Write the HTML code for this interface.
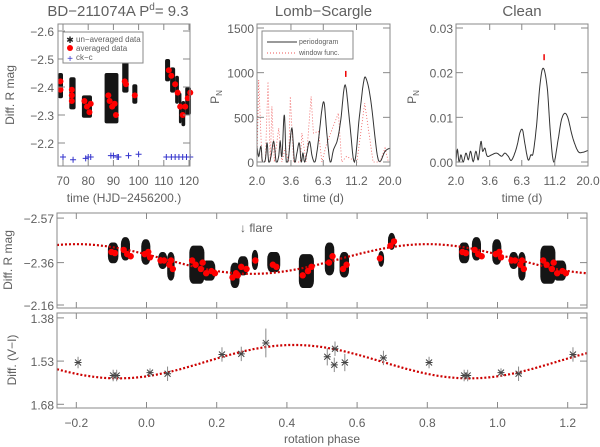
<!DOCTYPE html>
<html><head><meta charset="utf-8"><title>BD-211074A</title>
<style>
html,body{margin:0;padding:0;background:#fff;}
svg{display:block;font-family:"Liberation Sans",sans-serif;}
text{fill:#606060;}
</style></head>
<body>
<svg id="fig" width="600" height="447" viewBox="0 0 600 447" xmlns="http://www.w3.org/2000/svg">
<g id="g-lc"></g>
<g id="g-ls"></g>
<g id="g-cl"></g>
<g id="g-ph"></g>
<g id="g-vi"></g>
</svg>
<script>
// ---------- data ----------
var lcT0 = [68.0, 72.5, 77.5, 86.5, 93.5, 97.5, 110.5, 112.5, 114.5, 116.0, 117.0, 118.5];
var lcT1 = [70.0, 75.0, 81.5, 92.0, 96.0, 99.5, 112.5, 114.5, 116.0, 117.0, 118.5, 120.8];
var lcM0 = [-2.45, -2.435, -2.37, -2.45, -2.49, -2.41, -2.50, -2.47, -2.44, -2.38, -2.35, -2.40];
var lcM1 = [-2.36, -2.32, -2.29, -2.27, -2.38, -2.34, -2.42, -2.38, -2.34, -2.27, -2.26, -2.30];
var avgT = [69, 69, 73.5, 73.5, 73.5, 78.5, 79.5, 80.5, 81, 88, 88.5, 89.5, 90.5, 91, 94.5, 95, 98.5, 112, 113, 114.5, 115.5, 116.5, 117.5, 118.5, 119.5, 120.5];
var avgM = [-2.42, -2.39, -2.39, -2.37, -2.35, -2.35, -2.33, -2.31, -2.34, -2.37, -2.35, -2.33, -2.34, -2.30, -2.42, -2.41, -2.37, -2.46, -2.44, -2.41, -2.38, -2.33, -2.30, -2.33, -2.36, -2.38];
var ckT = [70, 74, 79, 80, 81, 89, 90, 91.5, 92, 96, 100, 111, 113, 114.5, 116, 117.5, 119, 120.5];
var ckM = [-2.15, -2.14, -2.145, -2.15, -2.15, -2.155, -2.155, -2.15, -2.15, -2.155, -2.16, -2.15, -2.15, -2.15, -2.15, -2.15, -2.15, -2.15];
var lcTicksX = [70, 80, 90, 100, 110, 120];
var lcTicksY = [-2.6, -2.5, -2.4, -2.3, -2.2];

var lsP = [2.00,2.06,2.14,2.20,2.31,2.38,2.45,2.55,2.67,2.79,2.91,2.99,3.08,3.21,3.32,3.46,3.66,3.83,3.99,4.16,4.30,4.43,4.56,4.74,4.97,5.20,5.48,5.80,6.15,6.40,6.70,7.10,7.52,8.05,8.53,9.19,9.91,10.80,11.78,12.62,13.21,14.32,15.89,16.83,18.35,20.0];
var lsPow = [175,63,175,0,26,212,0,63,231,0,63,231,63,528,0,63,380,0,100,212,0,100,0,100,231,63,7,249,584,658,324,0,138,249,472,863,472,0,510,882,937,696,119,7,119,156];
var winP = [2.00,2.06,2.18,2.31,2.42,2.52,2.59,2.70,2.91,3.08,3.26,3.46,3.56,3.77,4.23,4.35,4.68,5.10,5.31,5.80,6.15,6.70,8.18,8.67,9.41,11.28,12.90,14.93,16.83,18.35,19.46,20.0];
var winPow = [0,919,0,0,900,0,621,0,380,0,156,0,733,0,0,324,0,733,324,342,0,212,547,0,63,0,658,0,0,156,0,0];
var lsTicksY = [0, 500, 1000, 1500];
var perTicks = [2.0, 3.6, 6.3, 11.2, 20.0];
var bestPeriod = 9.3;

var clP = [2.00,2.05,2.11,2.18,2.27,2.38,2.48,2.58,2.70,2.83,2.95,3.09,3.18,3.31,3.45,3.72,4.06,4.43,4.69,4.97,5.27,5.74,6.09,6.38,6.64,7.04,7.38,7.68,8.14,8.63,9.14,9.80,10.38,11.01,11.87,12.58,13.33,14.12,15.23,16.81,18.33,20.0];
var clPow = [0.0,0.0028,0.0,0.0016,0.0,0.0020,0.0005,0.0024,0.0001,0.0024,0.0005,0.0046,0.0024,0.0031,0.0013,0.0016,0.0020,0.0013,0.0020,0.0013,0.0004,0.0031,0.0065,0.0072,0.0042,0.0005,0.0016,0.0020,0.0080,0.0169,0.0210,0.0169,0.0065,0.0,0.0050,0.0094,0.0109,0.0098,0.0057,0.0024,0.0022,0.0026];
var clTicksY = [0.00, 0.01, 0.02, 0.03];

var phP0 = [0.89, 0.927, -0.015, 0.033, 0.059, 0.122, 0.159, 0.239, 0.26, 0.30, 0.344, 0.434, 0.508, 0.55, 0.66, 0.688];
var phP1 = [0.92, 0.953, 0.011, 0.059, 0.08, 0.165, 0.196, 0.265, 0.29, 0.318, 0.381, 0.477, 0.535, 0.577, 0.677, 0.709];
var phM0 = [-2.455, -2.48, -2.47, -2.41, -2.41, -2.44, -2.37, -2.36, -2.39, -2.42, -2.41, -2.40, -2.455, -2.41, -2.415, -2.50];
var phM1 = [-2.357, -2.37, -2.35, -2.33, -2.275, -2.26, -2.275, -2.24, -2.30, -2.325, -2.315, -2.24, -2.30, -2.29, -2.34, -2.42];
var phAvgP = [0.90,0.91,0.935,0.945,0.955,-0.005,0.005,0.01,0.04,0.05,0.065,0.07,0.075,0.13,0.14,0.155,0.16,0.17,0.185,0.195,0.245,0.255,0.26,0.27,0.285,0.31,0.36,0.37,0.445,0.46,0.47,0.52,0.53,0.56,0.57,0.665,0.695,0.705];
var phAvgM = [-2.41,-2.405,-2.42,-2.40,-2.39,-2.40,-2.41,-2.385,-2.37,-2.37,-2.35,-2.37,-2.33,-2.37,-2.35,-2.33,-2.36,-2.31,-2.32,-2.31,-2.29,-2.31,-2.30,-2.34,-2.33,-2.37,-2.35,-2.34,-2.30,-2.32,-2.34,-2.36,-2.39,-2.33,-2.35,-2.38,-2.44,-2.46];
var rFit = [-2.377, 0.07, 0.80];
var phTicksX = [-0.2, 0.0, 0.2, 0.4, 0.6, 0.8, 1.0, 1.2];
var rTicksY = [-2.57, -2.36, -2.16];

var viP = [0.805, 0.905, 0.915, 0.01, 0.06, 0.215, 0.27, 0.34, 0.515, 0.535, 0.537, 0.565, 0.675];
var viV = [1.535, 1.58, 1.58, 1.57, 1.574, 1.507, 1.505, 1.467, 1.515, 1.543, 1.487, 1.535, 1.519];
var viE = [0.02, 0.02, 0.02, 0.015, 0.025, 0.025, 0.025, 0.05, 0.03, 0.025, 0.025, 0.03, 0.025];
var viFit = [1.532, 0.058, 0.42];
var viTicksY = [1.38, 1.53, 1.68];

// ---------- helpers ----------
var NS = "http://www.w3.org/2000/svg";
function mk(parent, tag, attrs, txt) {
  var e = document.createElementNS(NS, tag);
  for (var k in attrs) e.setAttribute(k, attrs[k]);
  if (txt !== undefined) e.textContent = txt;
  parent.appendChild(e);
  return e;
}
function fmt(v, d) { var s = v.toFixed(d); return s.replace("-", "\u2212"); }

function frame(g, x0, y0, x1, y1, xt, yt, sx, sy) {
  var r = mk(g, "rect", {x: x0, y: y0, width: x1 - x0, height: y1 - y0, fill: "none", stroke: "#888", "stroke-width": 1});
  
  
  xt.forEach(function (v) {
    var X = sx(v);
    mk(g, "line", {x1: X, y1: y1, x2: X, y2: y1 - 6, stroke: "#888"});
    mk(g, "line", {x1: X, y1: y0, x2: X, y2: y0 + 6, stroke: "#888"});
  });
  yt.forEach(function (v) {
    var Y = sy(v);
    mk(g, "line", {x1: x0, y1: Y, x2: x0 + 7, y2: Y, stroke: "#888"});
    mk(g, "line", {x1: x1, y1: Y, x2: x1 - 7, y2: Y, stroke: "#888"});
  });
}
function pathOf(xs, ys, sx, sy) {
  var d = "";
  for (var i = 0; i < xs.length; i++) d += (i ? "L" : "M") + sx(xs[i]).toFixed(1) + "," + sy(ys[i]).toFixed(1);
  return d;
}
// smooth (Catmull-Rom in pixel space, clamped at baseline)
function smoothPath(xs, ys, sx, sy, baseY) {
  var P = xs.map(function (x, i) { return [sx(x), sy(ys[i])]; });
  var d = "M" + P[0][0].toFixed(1) + "," + P[0][1].toFixed(1);
  for (var i = 0; i < P.length - 1; i++) {
    var p0 = P[Math.max(i - 1, 0)], p1 = P[i], p2 = P[i + 1], p3 = P[Math.min(i + 2, P.length - 1)];
    for (var k = 1; k <= 8; k++) {
      var t = k / 8, t2 = t * t, t3 = t2 * t;
      var x = 0.5 * ((2 * p1[0]) + (-p0[0] + p2[0]) * t + (2 * p0[0] - 5 * p1[0] + 4 * p2[0] - p3[0]) * t2 + (-p0[0] + 3 * p1[0] - 3 * p2[0] + p3[0]) * t3);
      var y = 0.5 * ((2 * p1[1]) + (-p0[1] + p2[1]) * t + (2 * p0[1] - 5 * p1[1] + 4 * p2[1] - p3[1]) * t2 + (-p0[1] + 3 * p1[1] - 3 * p2[1] + p3[1]) * t3);
      if (y > baseY) y = baseY;
      d += "L" + x.toFixed(1) + "," + y.toFixed(1);
    }
  }
  return d;
}

// ---------- panel 1: light curve ----------
(function () {
  var g = document.getElementById("g-lc");
  var X0 = 58, X1 = 190, Y0 = 24, Y1 = 166;
  function sx(t) { return 63 + (t - 70) * 2.52; }
  function sy(m) { return 31 + (m + 2.6) * 280; }
  var t = mk(g, "text", {x: 118, y: 16, "font-size": 15, "text-anchor": "middle"}, "BD\u2212211074A P");
  
  
  mk(t, "tspan", {dy: -6, "font-size": 10}, "d");
  mk(t, "tspan", {dy: 6}, "= 9.3");
  for (var i = 0; i < lcT0.length; i++) {
    var c = mk(g, "rect", {x: sx(lcT0[i]), y: sy(lcM0[i]), width: sx(lcT1[i]) - sx(lcT0[i]), height: sy(lcM1[i]) - sy(lcM0[i]), rx: 2, fill: "#151515"});
    
    
  }
  for (i = 0; i < avgT.length; i++) {
    var d = mk(g, "circle", {cx: sx(avgT[i]), cy: sy(avgM[i]), r: 3, fill: "#f00"});
    
    
  }
  for (i = 0; i < ckT.length; i++) {
    var p = mk(g, "path", {d: "M" + (sx(ckT[i]) - 3) + "," + sy(ckM[i]) + "h6M" + sx(ckT[i]) + "," + (sy(ckM[i]) - 3) + "v6", stroke: "#33c", "stroke-width": 1, fill: "none"});
    
    
  }
  frame(g, X0, Y0, X1, Y1, lcTicksX, lcTicksY, sx, sy);
  lcTicksX.forEach(function (v) { mk(g, "text", {x: sx(v), y: 185, "font-size": 12, "text-anchor": "middle"}, String(v)); });
  lcTicksY.forEach(function (v) { mk(g, "text", {x: 54, y: sy(v) + 5, "font-size": 12, "text-anchor": "end"}, fmt(v, 1)); });
  var xl = mk(g, "text", {x: 124, y: 202, "font-size": 12, "text-anchor": "middle"}, "time (HJD\u22122456200.)");
  
  
  var yl = mk(g, "text", {x: 0, y: 0, "font-size": 12, "text-anchor": "middle", transform: "translate(14,95) rotate(-90)"}, "Diff. R mag");
  
  
  var lg = mk(g, "g", {});
  
  
  mk(lg, "rect", {x: 63, y: 32, width: 80, height: 31, fill: "#fff", stroke: "#888"});
  mk(lg, "text", {x: 70, y: 43, "font-size": 9, "text-anchor": "middle", style: "fill:#222"}, "\u2731");
  mk(lg, "text", {x: 76, y: 42, "font-size": 8}, "un\u2212averaged data");
  mk(lg, "circle", {cx: 70, cy: 48, r: 3, fill: "#f00"});
  mk(lg, "text", {x: 76, y: 51, "font-size": 8}, "averaged data");
  mk(lg, "text", {x: 70, y: 62, "font-size": 10, "text-anchor": "middle", style: "fill:#33c"}, "+");
  mk(lg, "text", {x: 76, y: 60, "font-size": 8}, "ck\u2212c");
})();

// ---------- periodogram panels ----------
function perPanel(id, X0, X1, ymax, xs, ys, ticksY, dec, title, win) {
  var g = document.getElementById(id);
  var Y0 = 24, Y1 = 166;
  function sx(P) { return X0 + Math.log(P / 2) / Math.LN10 * (X1 - X0); }
  function sy(v) { return 162 - v / ymax * 134; }
  var tt = mk(g, "text", {x: (X0 + X1) / 2, y: 16, "font-size": 15, "text-anchor": "middle"}, title);
  
  
  if (win) {
    var w = mk(g, "path", {d: pathOf(win[0], win[1], sx, sy), fill: "none", stroke: "#e55", "stroke-width": 0.8, "stroke-dasharray": "1,2"});
    
    
  }
  var l = mk(g, "path", {d: smoothPath(xs, ys, sx, sy, sy(0)), fill: "none", stroke: "#333", "stroke-width": 1});
  
  
  var pk = 0;
  for (var i = 0; i < xs.length; i++) if (Math.abs(xs[i] - bestPeriod) < Math.abs(xs[pk] - bestPeriod)) pk = i;
  var m = mk(g, "line", {x1: sx(bestPeriod), x2: sx(bestPeriod), y1: sy(ys[pk]) - 14, y2: sy(ys[pk]) - 8, stroke: "#e00", "stroke-width": 1.5});
  
  
  frame(g, X0, Y0, X1, Y1, perTicks, ticksY, sx, sy);
  perTicks.forEach(function (v) { mk(g, "text", {x: sx(v), y: 185, "font-size": 12, "text-anchor": "middle"}, v.toFixed(1)); });
  ticksY.forEach(function (v) { mk(g, "text", {x: X0 - 3, y: sy(v) + 5, "font-size": 12, "text-anchor": "end"}, v.toFixed(dec)); });
  var xl = mk(g, "text", {x: (X0 + X1) / 2, y: 202, "font-size": 12, "text-anchor": "middle"}, "time (d)");
  
  
  var yl = mk(g, "text", {x: 0, y: 0, "font-size": 12, "text-anchor": "middle", transform: "translate(" + (X0 - (dec ? 40 : 38)) + ",97) rotate(-90)"}, "P");
  
  
  mk(yl, "tspan", {dy: 3, "font-size": 8}, "N");
  return g;
}
var gls = perPanel("g-ls", 257, 390, 1500, lsP, lsPow, lsTicksY, 0, "Lomb\u2212Scargle", [winP, winPow]);
(function () {
  var lg = mk(gls, "g", {});
  
  
  mk(lg, "rect", {x: 262, y: 31, width: 91, height: 28, fill: "#fff", stroke: "#888"});
  mk(lg, "line", {x1: 267, x2: 297, y1: 42, y2: 42, stroke: "#333"});
  mk(lg, "text", {x: 299, y: 44, "font-size": 7}, "periodogram");
  mk(lg, "line", {x1: 267, x2: 297, y1: 53, y2: 53, stroke: "#e55", "stroke-dasharray": "1,2"});
  mk(lg, "text", {x: 299, y: 55, "font-size": 7}, "window func.");
})();
perPanel("g-cl", 456, 588, 0.03, clP, clPow, clTicksY, 2, "Clean", null);

// ---------- phased panels ----------
var PX0 = 57, PX1 = 587;
function px(p) { return PX0 + (p + 0.255) * (PX1 - PX0) / 1.51; }
function dups(p0) {
  var out = [0];
  if (p0 - 1 > -0.25) out.push(-1);
  if (p0 + 1 < 1.21) out.push(1);
  return out;
}
(function () {
  var g = document.getElementById("g-ph");
  var Y0 = 213, Y1 = 308;
  function sy(m) { return 213 + (m + 2.594) * 212; }
  var fx = [], fy = [];
  for (var p = -0.255; p <= 1.256; p += 0.005) { fx.push(p); fy.push(rFit[0] - rFit[1] * Math.cos(2 * Math.PI * (p - rFit[2]))); }
  for (var i = 0; i < phP0.length; i++) {
    dups(phP0[i]).forEach(function (s) {
      var a = px(phP0[i] + s), b = px(phP1[i] + s), t = sy(phM0[i]), u = sy(phM1[i]);
      var e = mk(g, "rect", {x: a, y: t, width: b - a, height: u - t, rx: 4, ry: 7, fill: "#151515"});
      
      
    });
  }
  var f = mk(g, "path", {d: pathOf(fx, fy, px, sy), fill: "none", stroke: "#c00", "stroke-width": 2.2, "stroke-dasharray": "2,2"});
  
  
  for (i = 0; i < phAvgP.length; i++) {
    [0, -1, 1].forEach(function (s) {
      var q = phAvgP[i] + s;
      if (q < -0.25 || q > 1.21) return;
      var c = mk(g, "circle", {cx: px(q), cy: sy(phAvgM[i]), r: 3.2, fill: "#f00"});
      
      
    });
  }
  frame(g, PX0, Y0, PX1, Y1, phTicksX, rTicksY, px, sy);
  rTicksY.forEach(function (v) { mk(g, "text", {x: 54, y: sy(v) + 5, "font-size": 12, "text-anchor": "end"}, fmt(v, 2)); });
  var yl = mk(g, "text", {x: 0, y: 0, "font-size": 12, "text-anchor": "middle", transform: "translate(12,260) rotate(-90)"}, "Diff. R mag");
  
  
  var fl = mk(g, "text", {x: 240, y: 232, "font-size": 12}, "\u2193 flare");
  
  
})();
(function () {
  var g = document.getElementById("g-vi");
  var Y0 = 313, Y1 = 408;
  function sy(v) { return 313 + (v - 1.363) * 288; }
  var fx = [], fy = [];
  for (var p = -0.255; p <= 1.256; p += 0.005) { fx.push(p); fy.push(viFit[0] - viFit[1] * Math.cos(2 * Math.PI * (p - viFit[2]))); }
  var f = mk(g, "path", {d: pathOf(fx, fy, px, sy), fill: "none", stroke: "#c00", "stroke-width": 2.2, "stroke-dasharray": "2,2"});
  
  
  for (var i = 0; i < viP.length; i++) {
    [0, -1, 1].forEach(function (s) {
      var q = viP[i] + s;
      if (q < -0.25 || q > 1.25) return;
      var X = px(q), Y = sy(viV[i]);
      var eb = mk(g, "line", {x1: X, x2: X, y1: sy(viV[i] - viE[i]), y2: sy(viV[i] + viE[i]), stroke: "#888"});
      
      
      var st = mk(g, "path", {d: "M" + (X - 3) + "," + (Y - 3) + "l6,6M" + (X + 3) + "," + (Y - 3) + "l-6,6M" + (X - 3.5) + "," + Y + "h7", stroke: "#444", "stroke-width": 1, fill: "none"});
      
      
    });
  }
  frame(g, PX0, Y0, PX1, Y1, phTicksX, viTicksY, px, sy);
  viTicksY.forEach(function (v) { mk(g, "text", {x: 54, y: sy(v) + 5, "font-size": 12, "text-anchor": "end"}, v.toFixed(2)); });
  phTicksX.forEach(function (v) { mk(g, "text", {x: px(v), y: 427, "font-size": 12, "text-anchor": "middle"}, fmt(v, 1)); });
  var xl = mk(g, "text", {x: 322, y: 443, "font-size": 12, "text-anchor": "middle"}, "rotation phase");
  
  
  var yl = mk(g, "text", {x: 0, y: 0, "font-size": 12, "text-anchor": "middle", transform: "translate(16,360) rotate(-90)"}, "Diff. (V\u2212I)");
  
  
})();
</script>
</body></html>
